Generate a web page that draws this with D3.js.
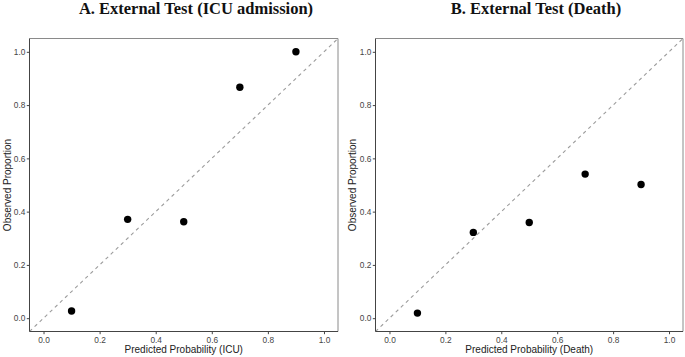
<!DOCTYPE html>
<html>
<head>
<meta charset="utf-8">
<script src="https://cdn.jsdelivr.net/npm/d3@7"></script>
<style>
  body { margin: 0; background: #fff; }
  svg { display: block; }
</style>
</head>
<body>
<div id="chart"></div>
<script>
let svgWidth = 685;
let svgHeight = 357;

// data
let binMids = [0.1, 0.3, 0.5, 0.7, 0.9];
let icuObserved = [0.027, 0.371, 0.362, 0.867, 1.0];
let deathObserved = [0.019, 0.322, 0.359, 0.541, 0.502];
let tickValues = [0, 0.2, 0.4, 0.6, 0.8, 1.0];
let titles = ['A. External Test (ICU admission)', 'B. External Test (Death)'];
let xLabels = ['Predicted Probability (ICU)', 'Predicted Probability (Death)'];
let yLabel = 'Observed Proportion';

let panels = [
    { left: 29.5, right: 338, title: titles[0], titleX: 196, xLab: xLabels[0], ylabX: 7, obs: icuObserved },
    { left: 375.5, right: 683, title: titles[1], titleX: 536, xLab: xLabels[1], ylabX: 352, obs: deathObserved }
];
let plotTop = 38.5, plotBottom = 331.5;

let svg = d3.select('#chart')
    .append('svg')
        .attr('width', svgWidth)
        .attr('height', svgHeight);

panels.forEach(function(p){
    let x = d3.scaleLinear().domain([-0.05, 1.05]).range([p.left, p.right]);
    let y = d3.scaleLinear().domain([-0.05, 1.05]).range([plotBottom, plotTop]);

    let g = svg.append('g');

    // title
    g.append('text')
        .attr('x', p.titleX)
        .attr('y', 14)
        .attr('text-anchor', 'middle')
        .style('font-family', '"Liberation Serif", "Times New Roman", serif')
        .style('font-weight', 'bold')
        .style('font-size', '16.5px')
        .style('fill', '#111')
        .text(p.title);

    // diagonal reference
    g.append('line')
        .attr('x1', x(-0.05)).attr('y1', y(-0.05))
        .attr('x2', x(1.05)).attr('y2', y(1.05))
        .attr('stroke', '#9c9c9c')
        .attr('stroke-width', 1.1)
        .attr('stroke-dasharray', '3.5,3.5');

    // points
    g.selectAll('circle')
        .data(binMids.map((d, i) => ({ px: d, py: p.obs[i] })))
        .join('circle')
            .attr('cx', d => x(d.px))
            .attr('cy', d => y(d.py))
            .attr('r', 3.7)
            .attr('fill', '#000');

    // panel border: top/right lighter, left/bottom axis lines darker
    g.append('path')
        .attr('d', `M${p.left},${plotTop}H${p.right}V${plotBottom}`)
        .attr('fill', 'none')
        .attr('stroke', '#8a8a8a')
        .attr('stroke-width', 1);
    g.append('path')
        .attr('d', `M${p.left},${plotTop}V${plotBottom}H${p.right}`)
        .attr('fill', 'none')
        .attr('stroke', '#444')
        .attr('stroke-width', 1);

    let xAxis = d3.axisBottom(x).tickValues(tickValues).tickFormat(d3.format('.1f')).tickSize(2.7).tickPadding(2.5);
    let yAxis = d3.axisLeft(y).tickValues(tickValues).tickFormat(d3.format('.1f')).tickSize(2.7).tickPadding(1.5);

    let gx = g.append('g')
        .attr('transform', `translate(0,${plotBottom})`)
        .call(xAxis);
    let gy = g.append('g')
        .attr('transform', `translate(${p.left},0)`)
        .call(yAxis);

    [gx, gy].forEach(function(a){
        a.select('.domain').remove();
        a.selectAll('line').attr('stroke', '#444');
        a.selectAll('text')
            .style('font-family', '"Liberation Sans", Arial, sans-serif')
            .style('font-size', '8.3px')
            .style('fill', '#444');
    });

    // axis labels
    g.append('text')
        .attr('x', (p.left + p.right) / 2)
        .attr('y', 353)
        .attr('text-anchor', 'middle')
        .style('font-family', '"Liberation Sans", Arial, sans-serif')
        .style('font-size', '10px')
        .style('fill', '#222')
        .text(p.xLab);

    g.append('text')
        .attr('transform', `translate(${p.ylabX + 3.5},${(plotTop + plotBottom) / 2}) rotate(-90)`)
        .attr('text-anchor', 'middle')
        .style('font-family', '"Liberation Sans", Arial, sans-serif')
        .style('font-size', '10px')
        .style('fill', '#222')
        .text(yLabel);
});
</script>
</body>
</html>
